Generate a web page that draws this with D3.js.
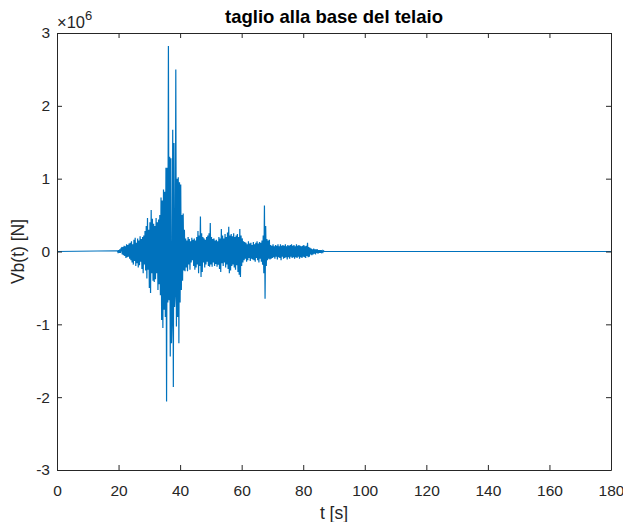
<!DOCTYPE html>
<html>
<head>
<meta charset="utf-8">
<script src="https://cdn.jsdelivr.net/npm/d3@7"></script>
<style>
  html, body { margin: 0; padding: 0; background: #fff; }
  svg { display: block; }
  text { font-family: "Liberation Sans", Arial, Helvetica, sans-serif; fill: #262626; }
</style>
</head>
<body>
<svg id="chart" width="623" height="522"></svg>
<script>
// Base shear time history of the frame, sampled every 0.2 s during the strong-motion window.
const recordSpan = [0, 180];      // full record length [s]
const sampleStart = 19.6;         // first sample of the active window [s]
const sampleStep = 0.2;           // sampling interval [s]
const shearUnit = 1e4;            // values below are in units of 1e4 N
const shear = [
  1,-1,2,-2,3,-2,4,
  5,-4,6,-5,8,-6,7,-9,10,-8,9,-7,11,-10,12,
  -12,14,-15,10,-18,16,-13,19,-20,12,-16,18,-22,15,-19,21,-14,17,-24,20,
  -30,22,-18,28,-26,35,-37,46,-25,30,
  -50,40,-57,57,-30,45,-40,38,-42,35,
  -38,46,-30,40,-53,44,-45,50,
  -60,74,-94,70,-105,85,-80,82,-90,115,
  -206,115,-70,282,-67,130,-144,128,-126,-95,167,-186,149,-76,-60,250,-103,100,-90,102,-126,95,-70,92,-53,50,-40,52,
  -26,30,-27,18,-22,15,-27,20,-18,17,-25,14,-15,19,-12,16,-20,18,-25,15,
  -22,20,-18,28,-30,22,-20,48,-35,25,-28,20,-15,18,-22,16,-18,20,-14,22,
  -20,25,-21,39,-18,20,-21,17,-15,18,-20,15,-17,16,-21,14,-18,20,-24,18,
  -28,31,-16,22,-20,18,-15,24,-22,20,-18,26,-24,34,-30,22,-26,24,-20,21,
  -18,25,-22,20,-25,22,-19,24,-28,20,-32,31,-35,22,-20,18,-15,14,-12,13,
  -10,12,-14,10,-12,14,-9,11,-13,12,-10,9,-11,13,-12,10,-14,12,-9,14,
  -12,11,-15,13,-10,12,-14,15,-18,22,-30,63,-65,35,-20,17,-12,15,-10,16,
  -11,9,-10,8,-9,10,-8,7,-10,9,-7,8,-11,10,-8,7,-9,10,-12,8,
  -7,9,-10,8,-9,10,-8,7,-11,9,-8,8,-10,9,-7,10,-9,8,-8,9,
  -10,7,-8,10,-9,8,-7,9,-10,8,-8,7,-9,8,-7,9,-8,7,-9,8,
  -6,12,-8,6,-7,5,-4,4,-5,3,-4,4,-3,3,-4,3,-2,3,-3,2,
  -2,2,-2,2,-1,1,-1,1
];

// Axis tick values
const xTicks = [0, 20, 40, 60, 80, 100, 120, 140, 160, 180];
const yTicks = [-3, -2, -1, 0, 1, 2, 3];
const yExponent = 6;

const titleText = "taglio alla base del telaio";
const xLabelText = "t [s]";
const yLabelText = "Vb(t) [N]";

// Build the (t, V) series: quiet before and after the active window
const series = [{ t: recordSpan[0], v: 0 }];
shear.forEach((s, i) => series.push({ t: sampleStart + i * sampleStep, v: s * shearUnit }));
series.push({ t: sampleStart + shear.length * sampleStep, v: 0 });
series.push({ t: recordSpan[1], v: 0 });

const svg = d3.select("#chart");
const plot = { left: 57, right: 611, top: 33, bottom: 470 };
const axisColor = "#262626";
const tickFont = "15.5px";

const x = d3.scaleLinear().domain(recordSpan).range([plot.left, plot.right]);
const y = d3.scaleLinear().domain([-3e6, 3e6]).range([plot.bottom, plot.top]);
const expScale = Math.pow(10, yExponent);

// Signal trace
const line = d3.line().x(d => x(d.t)).y(d => y(d.v));
svg.append("path")
  .datum(series)
  .attr("fill", "none")
  .attr("stroke", "#0072BD")
  .attr("stroke-width", 1.2)
  .attr("stroke-linejoin", "miter")
  .attr("d", line);

// Axes with inward ticks on all four sides (boxed axes)
const tickLen = 5;
function styleAxis(g) {
  g.selectAll("path.domain").attr("stroke", axisColor).attr("stroke-width", 1);
  g.selectAll(".tick line").attr("stroke", axisColor).attr("stroke-width", 1);
  g.selectAll(".tick text").attr("fill", axisColor)
    .style("font-family", '"Liberation Sans", Arial, sans-serif')
    .style("font-size", tickFont);
}

svg.append("g")
  .attr("transform", `translate(0,${plot.bottom})`)
  .call(d3.axisBottom(x).tickValues(xTicks).tickSizeInner(-tickLen).tickSizeOuter(0).tickPadding(15))
  .call(styleAxis);

svg.append("g")
  .attr("transform", `translate(0,${plot.top})`)
  .call(d3.axisTop(x).tickValues(xTicks).tickSizeInner(-tickLen).tickSizeOuter(0).tickFormat(""))
  .call(styleAxis);

svg.append("g")
  .attr("transform", `translate(${plot.left},0)`)
  .call(d3.axisLeft(y).tickValues(yTicks.map(v => v * expScale)).tickSizeInner(-tickLen).tickSizeOuter(0)
    .tickPadding(7).tickFormat(v => d3.format("d")(v / expScale).replace("−", "-")))
  .call(styleAxis);

svg.append("g")
  .attr("transform", `translate(${plot.right},0)`)
  .call(d3.axisRight(y).tickValues(yTicks.map(v => v * expScale)).tickSizeInner(-tickLen).tickSizeOuter(0).tickFormat(""))
  .call(styleAxis);

// Exponent marker
const expLabel = svg.append("text")
  .attr("x", plot.left)
  .attr("y", plot.top - 5)
  .style("font-size", "16.5px");
expLabel.append("tspan").text("\u00d710");
expLabel.append("tspan").attr("dy", -8).style("font-size", "13px").text(String(yExponent));

// Title and axis labels
svg.append("text")
  .attr("x", (plot.left + plot.right) / 2)
  .attr("y", 23)
  .attr("text-anchor", "middle")
  .style("font-size", "18.5px")
  .style("font-weight", "bold")
  .style("fill", "#000")
  .text(titleText);

svg.append("text")
  .attr("x", (plot.left + plot.right) / 2)
  .attr("y", 519)
  .attr("text-anchor", "middle")
  .style("font-size", "17.5px")
  .text(xLabelText);

svg.append("text")
  .attr("transform", `translate(24,${(plot.top + plot.bottom) / 2}) rotate(-90)`)
  .attr("text-anchor", "middle")
  .style("font-size", "17.5px")
  .text(yLabelText);
</script>
</body>
</html>
